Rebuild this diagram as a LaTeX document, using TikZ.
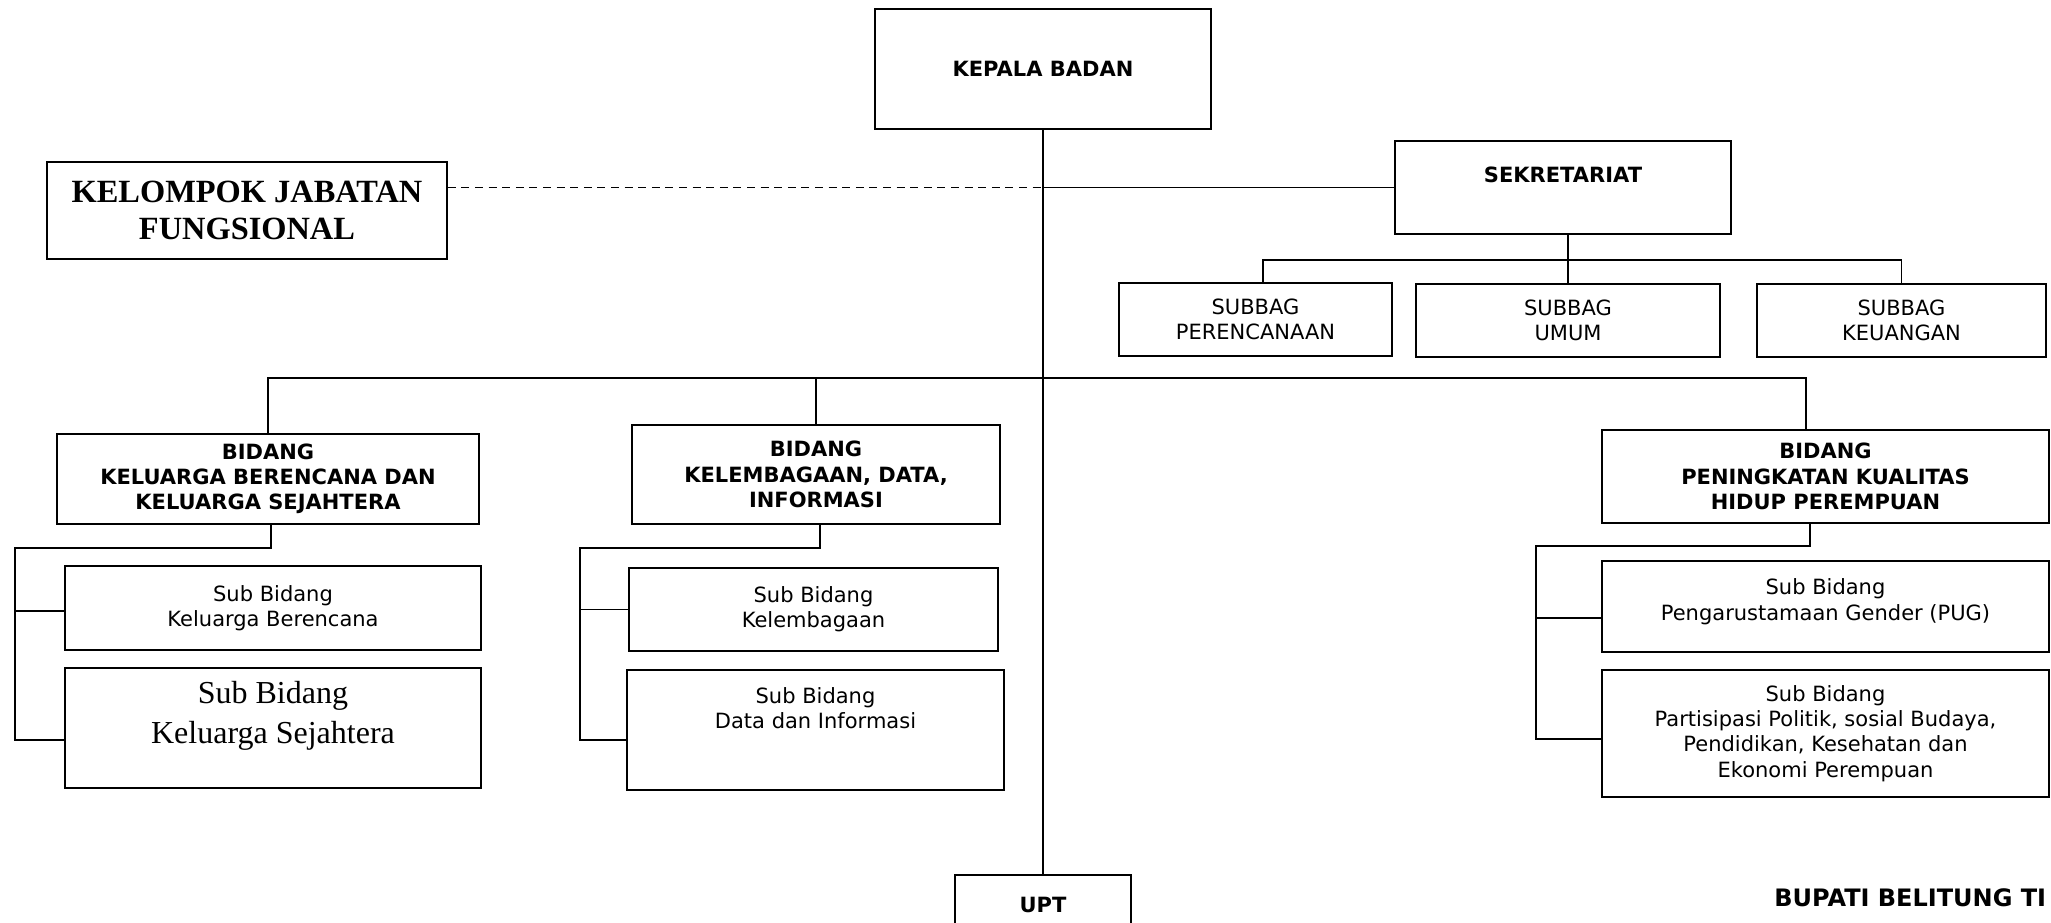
\documentclass[tikz,border=0pt]{standalone}
\usepackage{fontspec}
\setmainfont{DejaVu Sans}
\newfontfamily\timesfont{Liberation Serif}
\newcommand\bodyfont{\fontsize{10.5}{12.6}\selectfont}
\tikzset{
  unit/.style={draw,line width=0.8pt,align=center,inner sep=2pt,font=\bodyfont},
  head/.style={unit,font=\bodyfont\bfseries},
  link/.style={line width=0.8pt},
}
\begin{document}
\begin{tikzpicture}[x=0.5pt,y=-0.5pt]
  \path[use as bounding box] (0,0) rectangle (2051,922);
  % top level
  \node[head,minimum width=168pt,minimum height=60pt] (kepala) at (1043,69) {KEPALA BADAN};
  \node[unit,minimum width=200pt,minimum height=48.5pt,font=\timesfont\fontsize{16.2}{18.7}\selectfont\bfseries] (jabfung) at (247,210.5) {KELOMPOK JABATAN\\FUNGSIONAL};
  \node[head,minimum width=168pt,minimum height=46.5pt] (sekret) at (1563,187.5) {SEKRETARIAT\\\mbox{}};
  \node[unit,minimum width=136.5pt,minimum height=36.5pt] (sbper) at (1255.5,319.5) {SUBBAG\\PERENCANAAN};
  \node[unit,minimum width=152pt,minimum height=36.5pt] (sbumum) at (1568,320.5) {SUBBAG\\UMUM};
  \node[unit,minimum width=144.5pt,minimum height=36.5pt] (sbkeu) at (1901.5,320.5) {SUBBAG\\KEUANGAN};
  % bidang
  \node[head,minimum width=211pt,minimum height=45pt] (bdkb) at (268,479) {BIDANG\\KELUARGA BERENCANA DAN\\KELUARGA SEJAHTERA};
  \node[head,minimum width=184pt,minimum height=49.5pt] (bdkdi) at (816,474.5) {BIDANG\\KELEMBAGAAN, DATA,\\INFORMASI};
  \node[head,minimum width=223.5pt,minimum height=46.5pt] (bdpk) at (1825.5,476.5) {BIDANG\\PENINGKATAN KUALITAS\\HIDUP PEREMPUAN};
  % sub bidang
  \node[unit,minimum width=208pt,minimum height=42pt] (skb) at (273,608) {Sub Bidang\\Keluarga Berencana};
  \node[unit,minimum width=208pt,minimum height=60pt,font=\timesfont\fontsize{16}{20}\selectfont] (sks) at (273,728) {Sub Bidang\\Keluarga Sejahtera\\[-4pt]\mbox{}};
  \node[unit,minimum width=184.5pt,minimum height=41.5pt] (skel) at (813.5,609.5) {Sub Bidang\\Kelembagaan};
  \node[unit,minimum width=188.5pt,minimum height=60pt] (sdata) at (815.5,730) {Sub Bidang\\Data dan Informasi\\[9pt]\mbox{}};
  \node[unit,minimum width=223.5pt,minimum height=45.5pt] (spug) at (1825.5,606.5) {Sub Bidang\\Pengarustamaan Gender (PUG)\\[-5.6pt]\mbox{}};
  \node[unit,minimum width=223.5pt,minimum height=63.5pt] (spart) at (1825.5,733.5) {Sub Bidang\\Partisipasi Politik, sosial Budaya,\\Pendidikan, Kesehatan dan\\Ekonomi Perempuan};
  \node[head,minimum width=88pt,minimum height=30pt] (upt) at (1043,905) {UPT};
  \node[anchor=base west,inner sep=0pt,font=\fontsize{12}{14}\selectfont\bfseries] (bupati) at (1774,906) {BUPATI BELITUNG TI};
  % connectors
  \coordinate (sbus) at (1568,260);
  \coordinate (mbus) at (1043,378);
  \coordinate (kbrail) at (15,548);
  \coordinate (kdirail) at (580,548);
  \coordinate (pkrail) at (1536,546);
  \draw[link] (kepala.south) -- (upt.north);
  \draw[link,dash pattern=on 4pt off 2.8pt] (jabfung.east |- sekret.west) -- (kepala.south |- sekret.west);
  \draw[link] (kepala.south |- sekret.west) -- (sekret.west);
  \draw[link] (sekret.south -| sbumum.north) -- (sbumum.north);
  \draw[link] ([xshift=3.75pt]sbper.north) |- (sbus) -| (sbkeu.north);
  \draw[link] (bdkb.north) |- (mbus) -| ([xshift=-9.75pt]bdpk.north);
  \draw[link] (bdkdi.north) -- (bdkdi.north |- mbus);
  \draw[link] ([xshift=1.5pt]bdkb.south) |- (kbrail) |- ([yshift=-6pt]sks.west);
  \draw[link] ([yshift=-1.5pt]skb.west) -- ([yshift=-1.5pt]skb.west -| kbrail);
  \draw[link] ([xshift=2pt]bdkdi.south) |- (kdirail) |- ([yshift=-5pt]sdata.west);
  \draw[link] (skel.west) -- (skel.west -| kdirail);
  \draw[link] ([xshift=-7.75pt]bdpk.south) |- (pkrail) |- ([yshift=-2.75pt]spart.west);
  \draw[link] ([yshift=-5.75pt]spug.west) -- ([yshift=-5.75pt]spug.west -| pkrail);
\end{tikzpicture}
\end{document}
